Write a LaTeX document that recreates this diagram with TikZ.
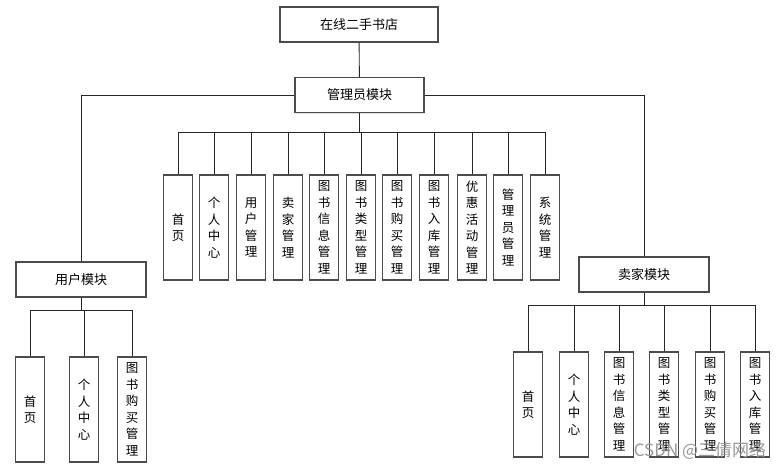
\documentclass[tikz,border=0pt]{standalone}
\usepackage{fontspec}
\newfontfamily\cjk{Noto Sans CJK SC}
\usetikzlibrary{shadows}
\begin{document}
\begin{tikzpicture}[x=1pt,y=-1pt,
  box/.style={draw=black!70,line width=1.1pt,fill=white,inner sep=0pt,
    font=\cjk\fontsize{13}{16}\selectfont,
    drop shadow={shadow xshift=1.2pt,shadow yshift=-1.2pt,fill=black!12,opacity=1}},
  hbox/.style={box,minimum width=#1,minimum height=35},
  vbox/.style={box,minimum width=28.5,minimum height=105,align=center,
    font=\cjk\fontsize{12.5}{16.5}\selectfont},
  conn/.style={draw=black!85,line width=0.9pt},
  wm/.style={font=\cjk\fontsize{17}{19}\selectfont,text=black!40}]
\useasboundingbox (0,0) rectangle (784,471);
\node[hbox=158] (top) at (359,24.5) {在线二手书店};
\node[hbox=129] (admin) at (359.5,95) {管理员模块};
\node[hbox=130] (user) at (81,279.5) {用户模块};
\node[hbox=130] (seller) at (644,274.5) {卖家模块};
% admin children
\node[vbox] (a1) at (178,227.5) {首\\页};
\node[vbox] (a2) at (214,227.5) {个\\人\\中\\心};
\node[vbox] (a3) at (251,227.5) {用\\户\\管\\理};
\node[vbox] (a4) at (288,227.5) {卖\\家\\管\\理};
\node[vbox] (a5) at (324,227.5) {图\\书\\信\\息\\管\\理};
\node[vbox] (a6) at (361,227.5) {图\\书\\类\\型\\管\\理};
\node[vbox] (a7) at (397,227.5) {图\\书\\购\\买\\管\\理};
\node[vbox] (a8) at (434,227.5) {图\\书\\入\\库\\管\\理};
\node[vbox] (a9) at (472,227.5) {优\\惠\\活\\动\\管\\理};
\node[vbox] (a10) at (508,227.5) {管\\理\\员\\管\\理};
\node[vbox] (a11) at (545,227.5) {系\\统\\管\\理};
% user children
\node[vbox] (u1) at (30,409.5) {首\\页};
\node[vbox] (u2) at (84,409.5) {个\\人\\中\\心};
\node[vbox] (u3) at (132,409.5) {图\\书\\购\\买\\管\\理};
% seller children
\node[vbox] (s1) at (528,404.5) {首\\页};
\node[vbox] (s2) at (574,404.5) {个\\人\\中\\心};
\node[vbox] (s3) at (619,404.5) {图\\书\\信\\息\\管\\理};
\node[vbox] (s4) at (664,404.5) {图\\书\\类\\型\\管\\理};
\node[vbox] (s5) at (710,404.5) {图\\书\\购\\买\\管\\理};
\node[vbox] (s6) at (755,404.5) {图\\书\\入\\库\\管\\理};
% buses
\coordinate (ab) at (359.5,132);
\coordinate (ub) at (81,310);
\coordinate (sb) at (644,305);
\draw[conn] (top) -- (admin);
\draw[conn] (admin.west) -| (user.north);
\draw[conn] (admin.east) -| (seller.north);
\draw[conn] (admin.south) -- (ab);
\foreach \c in {a1,a2,a3,a4,a5,a6,a7,a8,a9,a10,a11} \draw[conn] (\c.north) |- (ab);
\draw[conn] (user.south) -- (ub);
\foreach \c in {u1,u2,u3} \draw[conn] (\c.north) |- (ub);
\draw[conn] (seller.south) -- (sb);
\foreach \c in {s1,s2,s3,s4,s5,s6} \draw[conn] (\c.north) |- (sb);
\node[wm] (wmark) at (700,451) {CSDN @三倩网络};
\end{tikzpicture}
\end{document}
